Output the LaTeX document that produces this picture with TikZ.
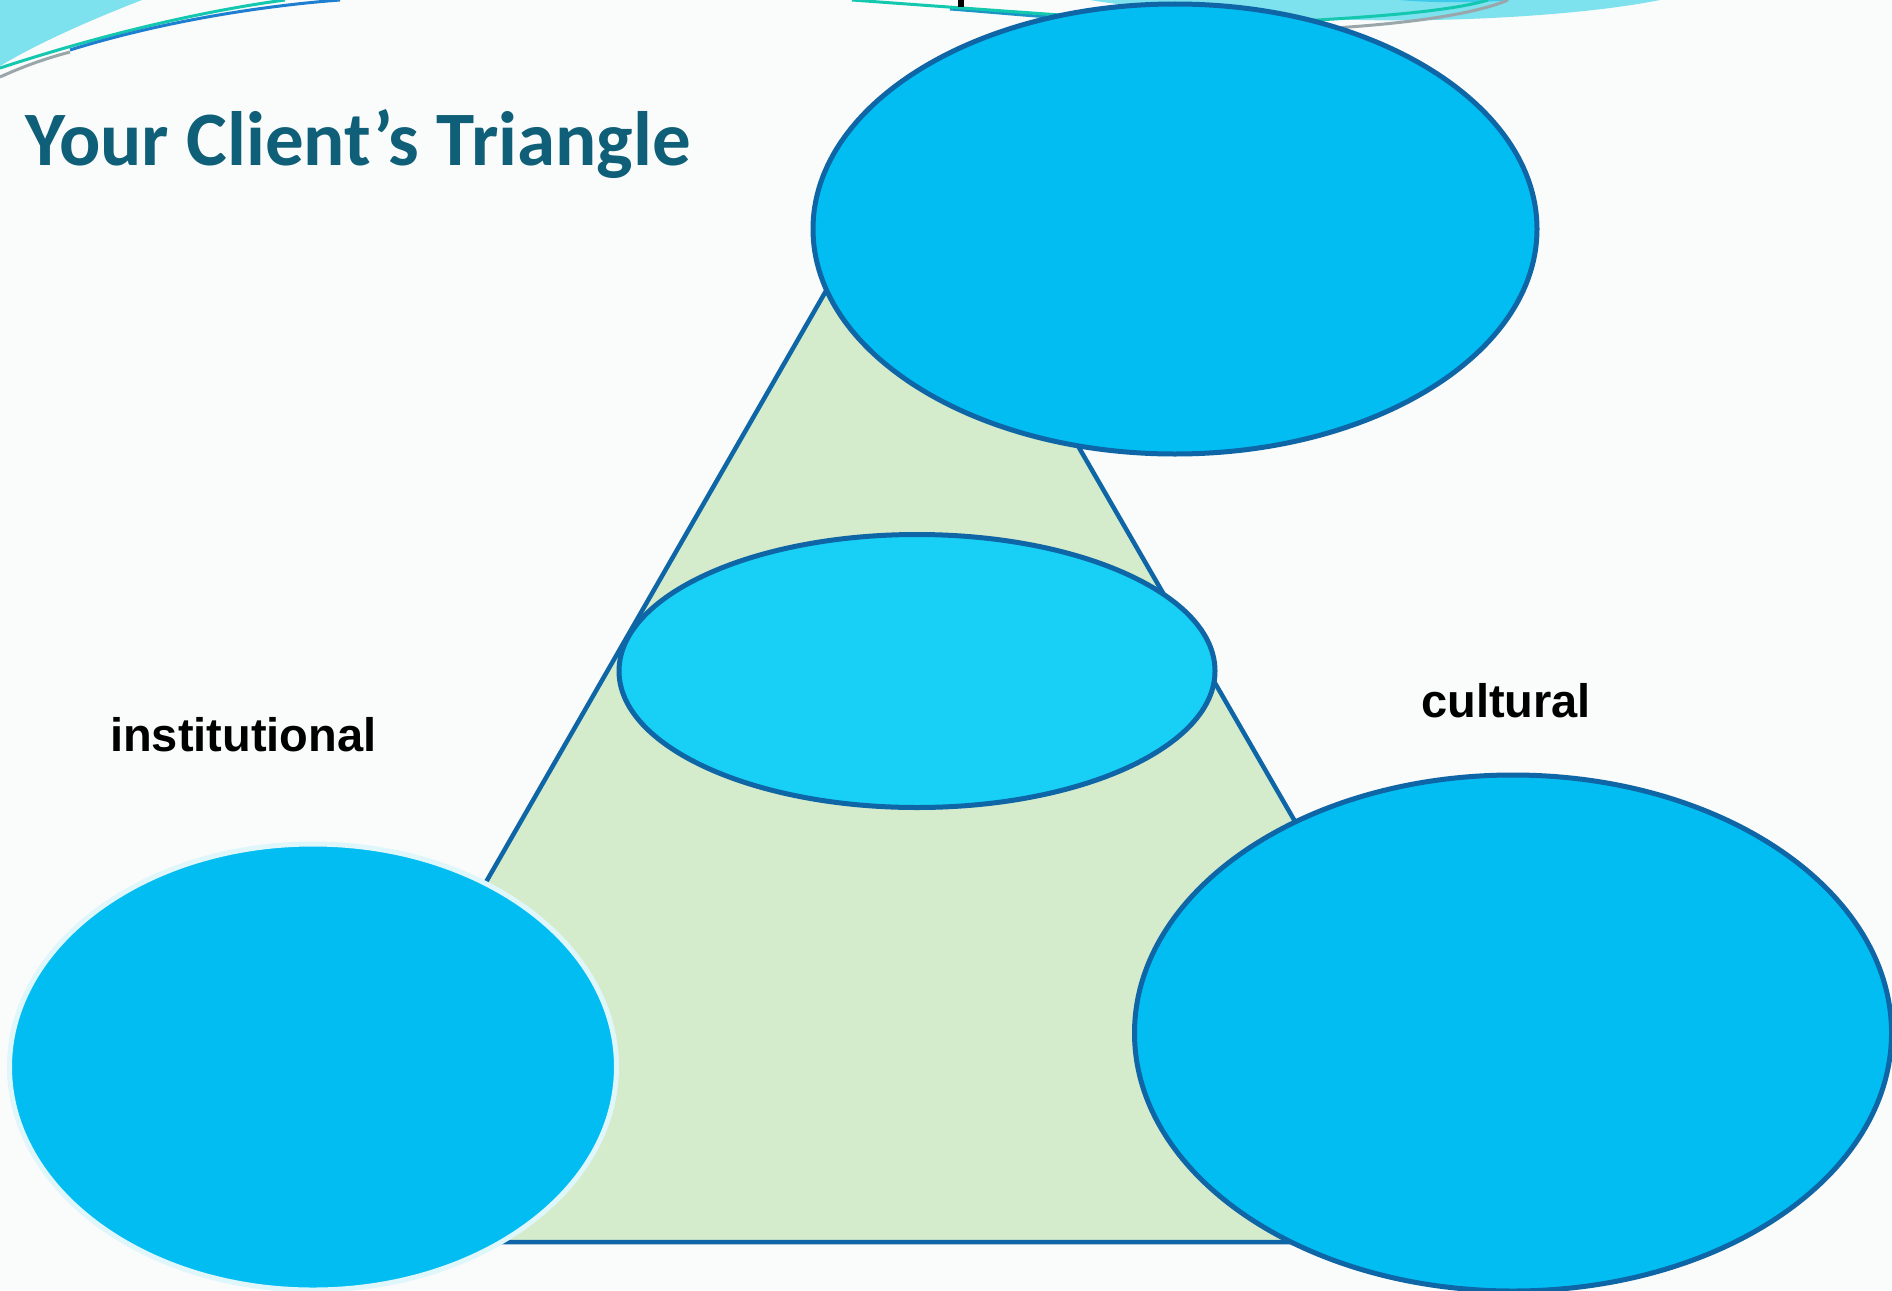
\documentclass[tikz,border=0pt]{standalone}
\usepackage{fontspec}
\usetikzlibrary{shapes.geometric}
\newfontfamily\titlefont{Carlito}
\newfontfamily\labelfont{Liberation Sans}
\definecolor{bgc}{HTML}{FAFBFB}
\definecolor{blobfill}{HTML}{02BDF2}
\definecolor{midfill}{HTML}{18D0F6}
\definecolor{edgeblue}{HTML}{0F66A6}
\definecolor{trifill}{HTML}{D4ECCB}
\definecolor{titlec}{HTML}{0E5F77}
\definecolor{swoosh}{HTML}{7DE1EE}
\definecolor{swooshdark}{HTML}{3CC9EA}
\definecolor{tealline}{HTML}{14C8B0}
\definecolor{blueline}{HTML}{1E7FD0}
\definecolor{grayline}{HTML}{9AA6AA}
\definecolor{paleedge}{HTML}{DFF6FB}
\tikzset{
  blob/.style={ellipse, fill=blobfill, draw=edgeblue, line width=5pt, inner sep=0pt, outer sep=0pt},
  midblob/.style={blob, fill=midfill},
  paleblob/.style={blob, draw=paleedge},
  lbl/.style={font=\labelfont\bfseries\fontsize{47}{56}\selectfont, text=black, inner sep=0pt, anchor=base west},
  ttl/.style={font=\titlefont\bfseries\fontsize{77}{90}\selectfont, text=titlec, inner sep=0pt, anchor=base west},
  deco/.style={line width=3pt},
}
\begin{document}
\begin{tikzpicture}[x=1pt,y=-1pt]
\useasboundingbox (0,0) rectangle (1892,1290);
\fill[bgc] (0,0) rectangle (1892,1290);
% top-left swoosh
\fill[swoosh] (0,0) -- (142,0) .. controls (85,22) and (35,45) .. (0,66) -- cycle;
\draw[deco,grayline] (0,77) .. controls (20,68) and (40,60) .. (70,52);
\draw[deco,tealline] (0,68) .. controls (110,32) and (210,10) .. (285,0);
\draw[deco,blueline] (70,50) .. controls (160,22) and (260,6) .. (340,0);
% top swoosh right
\fill[swoosh] (1090,0) -- (1660,0) .. controls (1580,16) and (1450,22) .. (1360,20) .. controls (1250,18) and (1150,10) .. (1090,0) -- cycle;
\fill[swooshdark] (1400,0) .. controls (1430,3) and (1480,3) .. (1510,0) -- cycle;
\draw[deco,blueline!70!tealline] (950,9) .. controls (990,12) and (1020,15) .. (1050,17);
\draw[deco,tealline] (852,0) .. controls (920,5) and (990,10) .. (1060,15);
\draw[deco,tealline] (1300,21) .. controls (1390,16) and (1455,10) .. (1488,0);
\draw[deco,grayline] (1335,28) .. controls (1425,22) and (1480,12) .. (1508,0);
\draw[line width=6pt,black] (961,0) -- (961,7);
% title
\node[ttl] (title) at (25,165) {Your Client’s Triangle};
% triangle
\filldraw[fill=trifill, draw=edgeblue, line width=4.5pt, line join=miter] (907,150) -- (1538,1242) -- (279,1242) -- cycle;
% ellipses
\node[blob, minimum width=724pt, minimum height=450pt] (top) at (1175,229) {};
\node[midblob, minimum width=596pt, minimum height=273pt] (mid) at (917,671) {};
\node[paleblob, minimum width=607pt, minimum height=446pt] (left) at (313,1067) {};
\node[blob, minimum width=757pt, minimum height=516pt] (right) at (1513,1033) {};
% labels
\node[lbl] (inst) at (110,751) {institutional};
\node[lbl] (cult) at (1421,717) {cultural};
\end{tikzpicture}
\end{document}
